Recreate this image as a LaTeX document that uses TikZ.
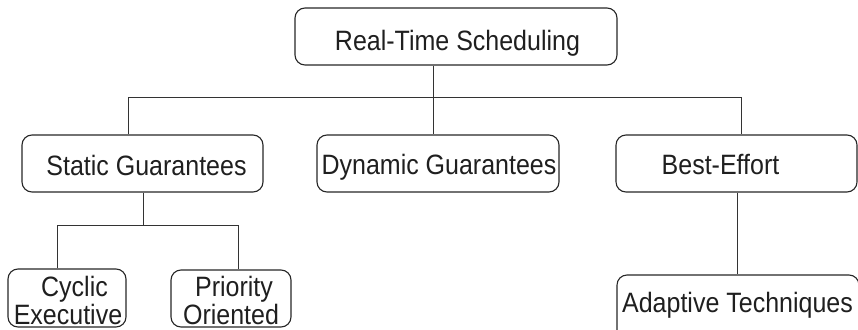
\documentclass[tikz,border=0pt]{standalone}
\usepackage{fontspec}
\setmainfont{Liberation Sans}
\newcommand{\tallt}[1]{\scalebox{1}[1.12]{#1}}
\begin{document}
\begin{tikzpicture}[x=1pt,y=-1pt,
  box/.style={draw=black!85, line width=1.1pt, rounded corners=10pt, inner sep=0pt},
  lbl/.style={anchor=base, inner sep=0pt, font=\fontsize{25}{25}\selectfont, text=black!88},
  conn/.style={draw=black!80, line width=0.9pt}]
\useasboundingbox (0,0) rectangle (858,329);
\clip (0,0) rectangle (858,329);
% boxes
\node[box, minimum width=322pt, minimum height=57pt] (top) at (456,36.5) {};
\node[box, minimum width=241pt, minimum height=57pt] (sg) at (142.5,163.5) {};
\node[box, minimum width=242pt, minimum height=57pt] (dg) at (438,163.5) {};
\node[box, minimum width=241pt, minimum height=57pt] (be) at (736.5,163.5) {};
\node[box, minimum width=118pt, minimum height=58pt] (ce) at (67,298) {};
\node[box, minimum width=120pt, minimum height=57pt] (po) at (231,298.5) {};
\node[box, minimum width=242pt, minimum height=70pt] (at) at (738,310) {};
% labels
\node[lbl] (ttop) at (457.5,50) {\tallt{Real-Time Scheduling}};
\node[lbl] (tsg) at (146.5,175) {\tallt{Static Guarantees}};
\node[lbl] (tdg) at (439,174) {\tallt{Dynamic Guarantees}};
\node[lbl] (tbe) at (720.5,174) {\tallt{Best-Effort}};
\node[lbl] (tce1) at (74.5,296) {\tallt{Cyclic}};
\node[lbl] (tce2) at (68,324) {\tallt{Executive}};
\node[lbl] (tpo1) at (234,296) {\tallt{Priority}};
\node[lbl] (tpo2) at (231,324) {\tallt{Oriented}};
\node[lbl] (tat) at (737.5,312) {\tallt{Adaptive Techniques}};
% junction coordinates
\coordinate (jm) at (433,97);
\coordinate (jl) at (128,97);
\coordinate (jr) at (741,97);
\coordinate (js) at (143,225);
\coordinate (jsl) at (57,225);
\coordinate (jsr) at (238,225);
\coordinate (jb) at (737,192);
% connectors
\draw[conn] (jm |- top.south) -- (jm);
\draw[conn] (jl |- sg.north) -- (jl) -- (jr) -- (jr |- be.north);
\draw[conn] (jm) -- (jm |- dg.north);
\draw[conn] (js |- sg.south) -- (js);
\draw[conn] (jsl |- ce.north) -- (jsl) -- (jsr) -- (jsr |- po.north);
\draw[conn] (jb |- be.south) -- (jb |- at.north);
\end{tikzpicture}
\end{document}
